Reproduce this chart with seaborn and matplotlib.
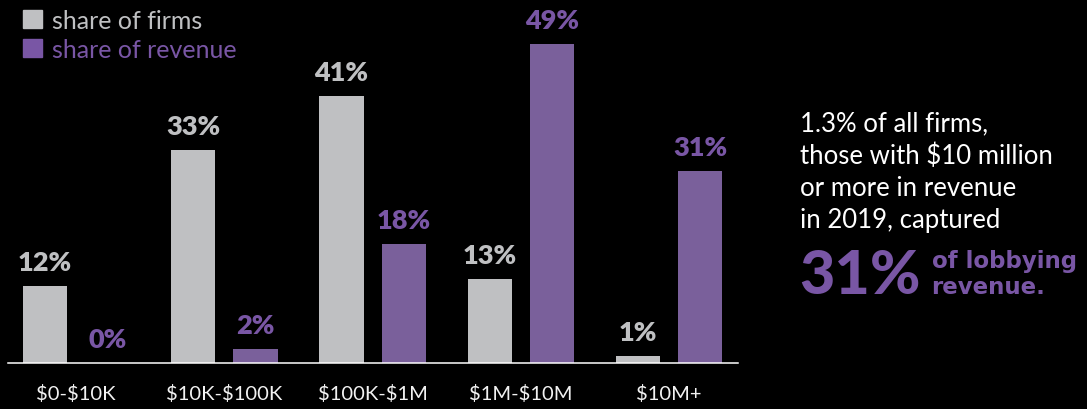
import pandas as pd
import matplotlib.pyplot as plt
import seaborn as sns
from matplotlib.patches import Rectangle

# chart data (bar heights, labels as printed)
categories = ["$0-$10K", "$10K-$100K", "$100K-$1M", "$1M-$10M", "$10M+"]
series_names = ["share of firms", "share of revenue"]
firms = [11.9, 32.8, 41.1, 13.0, 1.1]
revenue = [0.0, 2.2, 18.3, 49.1, 29.5]
firm_labels = ["12%", "33%", "41%", "13%", "1%"]
revenue_labels = ["0%", "2%", "18%", "49%", "31%"]

note_lines = ["1.3% of all firms,", "those with $10 million",
              "or more in revenue", "in 2019, captured"]
callout_value = "31%"
callout_words = ["of lobbying", "revenue."]

GREY = "#bfc0c2"
PURPLE = "#7956a5"

# long format for seaborn
df = pd.DataFrame({
    "bracket": categories * 2,
    "series": [series_names[0]] * len(categories) + [series_names[1]] * len(categories),
    "share": firms + revenue,
})

sns.set_style("white")
plt.rcParams["font.family"] = ["Lato", "DejaVu Sans"]
plt.rcParams["text.parse_math"] = False  # dollar signs are literal

W, H = 1087, 409
fig = plt.figure(figsize=(W / 100, H / 100), dpi=100, facecolor="black")


def fx(px):
    return px / W


def fy(py):
    return 1 - py / H


ax = fig.add_axes([fx(8), 46 / H, 730 / W, 363 / H])
ax.set_facecolor("black")

sns.barplot(data=df, x="bracket", y="share", hue="series",
            palette=[GREY, PURPLE], width=0.84, gap=0.29,
            errorbar=None, legend=False, linewidth=0, edgecolor="none", ax=ax)

ax.set_xlim(-0.46, 4.465)
ax.set_ylim(0, 363 / 6.5)
ax.set_xlabel("")
ax.set_ylabel("")
ax.set_yticks([])
for side in ["left", "right", "top"]:
    ax.spines[side].set_visible(False)
ax.spines["bottom"].set_color("white")
ax.spines["bottom"].set_linewidth(1.1)
ax.tick_params(axis="x", length=0, pad=15.5, colors="#f2f2f2", labelsize=14.5)

# value labels above the bars
for container, labels, col in zip(ax.containers, [firm_labels, revenue_labels], [GREY, PURPLE]):
    for bar, txt in zip(container, labels):
        ax.annotate(txt, (bar.get_x() + bar.get_width() / 2, bar.get_height()),
                    xytext=(0, 10.8), textcoords="offset points",
                    ha="center", va="baseline", fontsize=19.5,
                    fontweight="heavy", color=col)

# legend drawn by hand in the top-left corner
for i, (name, col) in enumerate(zip(series_names, [GREY, PURPLE])):
    top = 10 + i * 29
    fig.patches.append(Rectangle((fx(23), fy(top + 18)), 19 / W, 18 / H,
                                 transform=fig.transFigure, color=col))
    fig.text(fx(52), fy(29.3 + i * 29), name, color=col, fontsize=18,
             va="baseline", ha="left", zorder=5)

# side note
for i, line in enumerate(note_lines):
    fig.text(fx(800), fy(131.7 + i * 32.1), line, color="white",
             fontsize=18.5, va="baseline", ha="left")

big = fig.text(fx(799), fy(293.5), callout_value, color=PURPLE, fontsize=44,
               fontweight="black", va="baseline", ha="left")
fig.canvas.draw()
x_end = big.get_window_extent().x1
for i, word in enumerate(callout_words):
    fig.text((x_end + 11) / W, fy(268 + i * 25.5), word, color=PURPLE,
             fontsize=16.5, fontweight="bold", family="DejaVu Sans",
             va="baseline", ha="left")

fig.savefig("out.png", dpi=100, facecolor="black")
